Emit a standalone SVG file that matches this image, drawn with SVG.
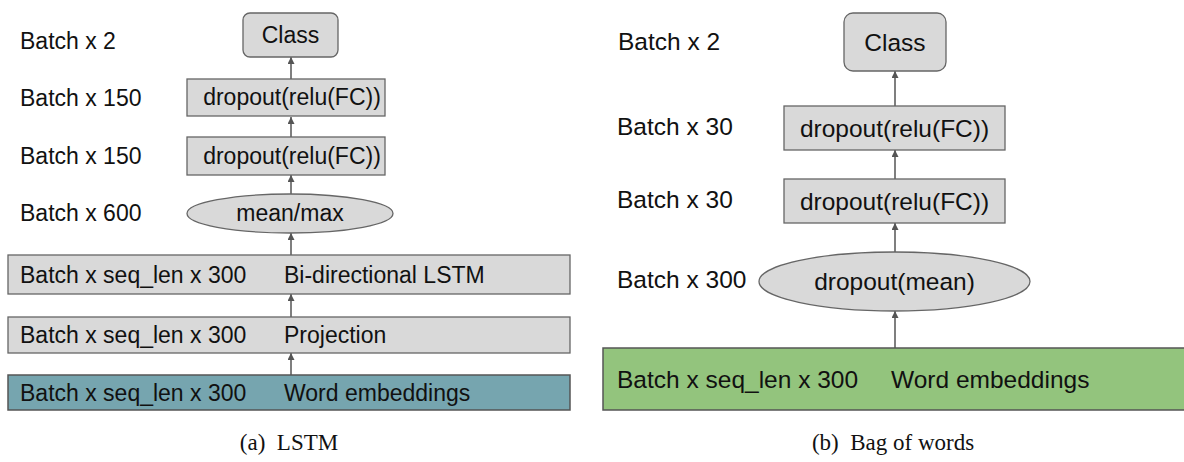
<svg xmlns="http://www.w3.org/2000/svg" width="1184" height="462" viewBox="0 0 1184 462">
<style>
.box{fill:#d9d9d9;stroke:#666;stroke-width:1.3}
.emb1{fill:#76a5af;stroke:#555;stroke-width:1.5}
.emb2{fill:#93c47d;stroke:#555;stroke-width:1.5}
.t{font-family:"Liberation Sans",Arial,sans-serif;font-size:23px;fill:#111}
.t2{font-family:"Liberation Sans",Arial,sans-serif;font-size:24.5px;fill:#111}
.c{text-anchor:middle}
.cap{font-family:"Liberation Serif","Times New Roman",serif;font-size:23px;fill:#111;text-anchor:middle;white-space:pre}
.arr{stroke:#555;stroke-width:1.5;fill:none;marker-end:url(#ah)}
</style>
<defs>
<marker id="ah" viewBox="0 0 10 10" refX="10" refY="5" markerWidth="7" markerHeight="7" markerUnits="userSpaceOnUse" orient="auto">
<path d="M0,0 L10,5 L0,10 z" fill="#555"/>
</marker>
</defs>
<g id="connectors">
<line class="arr" x1="291" y1="79" x2="291" y2="57"/>
<line class="arr" x1="291" y1="137" x2="291" y2="117"/>
<line class="arr" x1="291" y1="194" x2="291" y2="175"/>
<line class="arr" x1="291" y1="255" x2="291" y2="233"/>
<line class="arr" x1="291" y1="317" x2="291" y2="294"/>
<line class="arr" x1="291" y1="375" x2="291" y2="353"/>
<line class="arr" x1="895" y1="106" x2="895" y2="71"/>
<line class="arr" x1="895" y1="179" x2="895" y2="150"/>
<line class="arr" x1="895" y1="252" x2="895" y2="223"/>
<line class="arr" x1="895" y1="348" x2="895" y2="311"/>
</g>
<g id="a-labels">
<text class="t" x="20" y="49">Batch x 2</text>
<text class="t" x="20" y="106">Batch x 150</text>
<text class="t" x="20" y="164">Batch x 150</text>
<text class="t" x="20" y="221">Batch x 600</text>
</g>
<g id="a-class"><rect class="box" x="243" y="13" width="95" height="44" rx="7"/><text class="t c" x="290.5" y="43">Class</text></g>
<g id="a-fc1"><rect class="box" x="187" y="79" width="198" height="37"/><text class="t c" x="292" y="105">dropout(relu(FC))</text></g>
<g id="a-fc2"><rect class="box" x="187" y="137" width="198" height="38"/><text class="t c" x="292" y="164">dropout(relu(FC))</text></g>
<g id="a-pool"><ellipse class="box" cx="290" cy="213.5" rx="103" ry="19.5"/><text class="t c" x="290" y="221">mean/max</text></g>
<g id="a-lstm"><rect class="box" x="8" y="255" width="562" height="39"/><text class="t" x="20" y="283">Batch x seq_len x 300</text><text class="t" x="284" y="283">Bi-directional LSTM</text></g>
<g id="a-proj"><rect class="box" x="8" y="317" width="562" height="36"/><text class="t" x="20" y="343">Batch x seq_len x 300</text><text class="t" x="284" y="343">Projection</text></g>
<g id="a-emb"><rect class="emb1" x="8" y="375" width="562" height="35"/><text class="t" x="20" y="401">Batch x seq_len x 300</text><text class="t" x="284" y="401">Word embeddings</text></g>
<text class="cap" x="289" y="450">(a)  LSTM</text>
<g id="b-labels">
<text class="t2" x="618" y="50">Batch x 2</text>
<text class="t2" x="617" y="135">Batch x 30</text>
<text class="t2" x="617" y="208">Batch x 30</text>
<text class="t2" x="617" y="288">Batch x 300</text>
</g>
<g id="b-class"><rect class="box" x="844" y="13" width="102" height="58" rx="9"/><text class="t2 c" x="895" y="51">Class</text></g>
<g id="b-fc1"><rect class="box" x="784" y="106" width="221" height="44"/><text class="t2 c" x="894.5" y="137">dropout(relu(FC))</text></g>
<g id="b-fc2"><rect class="box" x="784" y="179" width="221" height="44"/><text class="t2 c" x="894.5" y="210">dropout(relu(FC))</text></g>
<g id="b-pool"><ellipse class="box" cx="894.5" cy="281.5" rx="135.5" ry="29.5"/><text class="t2 c" x="894.5" y="290">dropout(mean)</text></g>
<g id="b-emb"><rect class="emb2" x="603" y="348" width="582" height="62"/><text class="t2" x="617" y="388">Batch x seq_len x 300</text><text class="t2" x="891" y="388">Word embeddings</text></g>
<text class="cap" x="893" y="450">(b)  Bag of words</text>
</svg>
